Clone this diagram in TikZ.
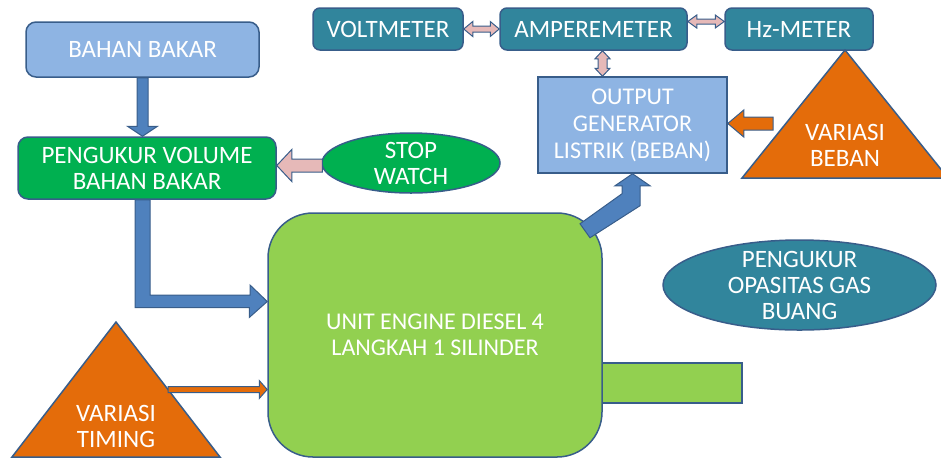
\documentclass[tikz,border=0pt]{standalone}
\usepackage{fontspec}
\setmainfont{Carlito}
\usepackage{tikz}
\usetikzlibrary{shapes.geometric, calc}
\definecolor{edgeblue}{HTML}{385D8A}
\definecolor{fuelblue}{HTML}{8EB4E3}
\definecolor{meterteal}{HTML}{31859C}
\definecolor{gaugegreen}{HTML}{00B050}
\definecolor{enginegreen}{HTML}{92D050}
\definecolor{loadorange}{HTML}{E46C0A}
\definecolor{linkpink}{HTML}{E6B9B8}
\definecolor{flowblue}{HTML}{4F81BD}

\newcommand\blockarrow[6][]{%
  \draw[#1] let \p1=#2, \p2=#3,
    \n1={atan2(\y2-\y1,\x2-\x1)}, \n2={veclen(\x2-\x1,\y2-\y1)} in
    {[shift={(\p1)}, rotate=\n1]
     (0,#4) -- (\n2-#6,#4) -- (\n2-#6,#5) -- (\n2,0) -- (\n2-#6,-#5) -- (\n2-#6,-#4) -- (0,-#4) -- cycle};}
\newcommand\twinarrow[6][]{%
  \draw[#1] let \p1=#2, \p2=#3,
    \n1={atan2(\y2-\y1,\x2-\x1)}, \n2={veclen(\x2-\x1,\y2-\y1)} in
    {[shift={(\p1)}, rotate=\n1]
     (0,0) -- (#6,#5) -- (#6,#4) -- (\n2-#6,#4) -- (\n2-#6,#5) -- (\n2,0) -- (\n2-#6,-#5) -- (\n2-#6,-#4) -- (#6,-#4) -- (#6,-#5) -- cycle};}

\begin{document}
\begin{tikzpicture}[x=1pt, y=-1pt,
  every node/.style={font=\fontsize{25}{26}\selectfont, text=white, align=center, inner sep=0pt},
  panel/.style={draw=edgeblue, line width=1.5pt, rounded corners=10pt},
  meter/.style={draw=edgeblue, line width=1.5pt, rounded corners=7pt, fill=meterteal, minimum height=42pt},
  oval/.style={ellipse, draw=edgeblue, line width=1.5pt},
  wedge/.style={draw=edgeblue, line width=1.5pt, fill=loadorange},
  fuel flow/.style={draw=edgeblue, line width=1pt, fill=flowblue},
  pink link/.style={draw=edgeblue, line width=1pt, fill=linkpink},
  orange link/.style={draw=edgeblue, line width=1pt, fill=loadorange}]
  \clip (0,0) rectangle (941,459);

  \node[panel, fill=fuelblue, minimum width=233pt, minimum height=55pt] (bahan) at (142.5,49.5) {BAHAN BAKAR};
  \node[panel, fill=gaugegreen, minimum width=258pt, minimum height=62pt] (pengukur) at (147,168) {PENGUKUR VOLUME\\BAHAN BAKAR};
  \node[oval, fill=gaugegreen, minimum width=178pt, minimum height=60pt] (stopwatch) at (411,163) {};
  \node (stopwatch-text) at (stopwatch) {STOP\\WATCH};

  \node[meter, minimum width=150pt] (voltmeter) at (388,29) {VOLTMETER};
  \node[meter, minimum width=187pt] (ammeter) at (593.5,29) {AMPEREMETER};
  \node[meter, minimum width=148pt] (hzmeter) at (799,29) {Hz-METER};
  \node[draw=edgeblue, line width=1.5pt, fill=fuelblue, minimum width=189pt, minimum height=96pt,
    font=\fontsize{24}{27}\selectfont] (output) at (632.5,125) {OUTPUT\\GENERATOR\\LISTRIK (BEBAN)};

  \node[draw=edgeblue, line width=1.5pt, fill=enginegreen, minimum width=140pt, minimum height=40pt] (exhaust) at (672,383) {};
  \node[panel, rounded corners=45pt, fill=enginegreen, minimum width=334pt, minimum height=244pt,
    font=\fontsize{24}{26}\selectfont] (engine) at (435,335) {UNIT ENGINE DIESEL 4\\LANGKAH 1 SILINDER};
  \node[oval, fill=meterteal, minimum width=273pt, minimum height=90pt] (opasitas) at (799.5,285) {};
  \node (opasitas-text) at (opasitas) {PENGUKUR\\OPASITAS GAS\\BUANG};

  \coordinate (beban-apex) at (845,50);
  \coordinate (beban-left) at (742,178);
  \coordinate (beban-right) at (948,178);
  \draw[wedge] (beban-apex) -- (beban-right) -- (beban-left) -- cycle;
  \node (beban) at (845,145) {VARIASI\\BEBAN};

  \coordinate (timing-apex) at (116,322);
  \coordinate (timing-left) at (12,457);
  \coordinate (timing-right) at (220,457);
  \draw[wedge] (timing-apex) -- (timing-right) -- (timing-left) -- cycle;
  \node (timing) at (116,426) {VARIASI\\TIMING};

  \blockarrow[fuel flow]{(bahan.south)}{(pengukur.north -| bahan.south)}{5.5}{15}{10}
  \coordinate (fuel-bend) at (142.5,301.5);
  \draw[fuel flow] (pengukur.south -| fuel-bend) ++(-7.5,0) -- ++(15,0) |- ($(fuel-bend)+(107.5,-6.5)$) -- ++(0,-10)
    -- (fuel-bend -| engine.west) -- ++(-18,16) -- ++(0,-10) -- ($(fuel-bend)+(-7.5,6)$) -- cycle;
  \draw[fuel flow] (output.south) -- ++(17.5,12) -- ++(-10,0) -- ++(0,20) -- ++(-50,32) -- ++(-10,-14) -- ++(42,-30) -- ++(0,-8) -- ++(-7,0) -- cycle;

  \coordinate (watch-out) at ($(stopwatch.west)+(1,2.5)$);
  \blockarrow[pink link]{(watch-out)}{(watch-out -| pengukur.east)}{6.5}{16}{15}
  \coordinate (load-in) at (773,123.5);
  \blockarrow[orange link]{(load-in)}{(load-in -| output.east)}{6.5}{13.5}{16}
  \coordinate (timing-out) at ($(timing-apex)!0.5!(timing-right)$);
  \blockarrow[orange link]{(timing-out)}{(timing-out -| engine.west)}{3}{9}{8}

  \twinarrow[pink link]{(voltmeter.east)}{(ammeter.west)}{3}{7.5}{9}
  \coordinate (amp-hz) at ($(ammeter.east)+(0,-7.5)$);
  \twinarrow[pink link]{(amp-hz)}{(amp-hz -| hzmeter.west)}{2.5}{6.5}{9}
  \coordinate (amp-out) at ($(ammeter.south)+(9,0)$);
  \twinarrow[pink link]{(amp-out)}{(amp-out |- output.north)}{4.5}{7.5}{8}
\end{tikzpicture}
\end{document}
